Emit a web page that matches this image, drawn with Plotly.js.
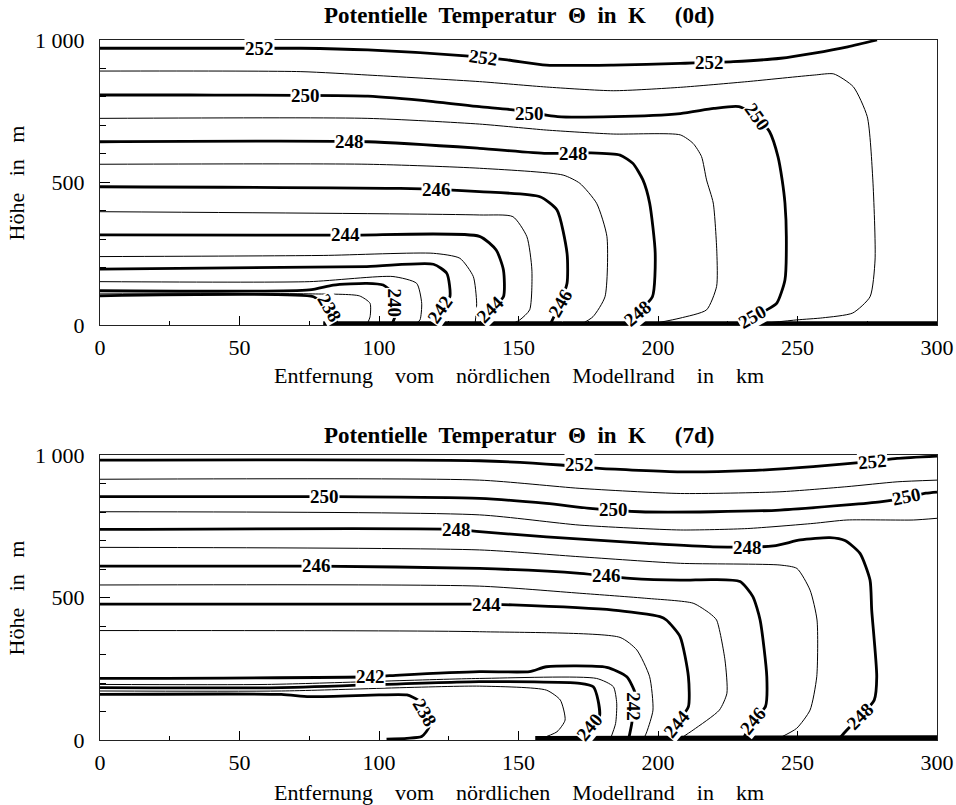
<!DOCTYPE html>
<html><head><meta charset="utf-8">
<script src="https://cdn.plot.ly/plotly-3.0.1.min.js"></script>
<style>html,body{margin:0;padding:0;background:#fff}</style>
</head><body><div id="chart" style="width:956px;height:805px"></div>
<script>
// ---------- axis data ----------
const X_TICKS = [0, 50, 100, 150, 200, 250, 300];
const X_MINOR = [25, 75, 125, 175, 225, 275];
const Y_TICKS = [0, 500, 1000];
const Y_TICKTEXT = ['0', '500', '1 000'];
const Y_MINOR = [100, 200, 300, 400, 600, 700, 800, 900];

// ---------- day 0 isolines (x in km, y in m) ----------
const d0_252_x = [0, 72, 96, 131, 146, 160, 184, 208, 227, 244, 256, 268, 278.5];
const d0_252_y = [971, 971, 965, 944, 930, 912, 912, 918, 924, 936, 954, 976, 1000];
const d0_251_x = [0, 72, 96, 136, 160, 184, 208, 232, 256, 263, 270, 275, 277, 277.8, 276, 269.8, 259, 250, 240];
const d0_251_y = [891, 889, 877, 854, 835, 822, 834, 854, 877, 881, 836, 731, 509, 228, 99, 42, 25, 18, 8];
const d0_250_x = [0, 32, 96, 119.5, 136, 148, 164, 184, 208, 220, 229, 235.5, 240, 243, 244.5, 245.5, 246, 245.5, 242.6, 239, 234, 229.4];
const d0_250_y = [807, 807, 803, 784, 766, 755, 731, 731, 742, 760, 766, 731, 678, 591, 509, 428, 310, 158, 77, 53, 29, 0];
const d0_249_x = [0, 96, 136, 160, 184, 208, 212.6, 215.6, 217.4, 219.8, 221.1, 221, 217.4, 207.9, 200];
const d0_249_y = [725, 725, 705, 684, 670, 667, 637, 591, 509, 428, 252, 135, 53, 24, 8];
const d0_248_x = [0, 96, 136, 160, 175.6, 186.4, 191, 194.6, 197, 199, 198, 192.5, 188];
const d0_248_y = [643, 643, 620, 602, 604, 596, 567, 509, 428, 252, 99, 42, 0];
const d0_247_x = [0, 96, 136, 166, 172, 178, 181.7, 181, 176.7, 172];
const d0_247_y = [564, 564, 550, 526, 497, 427, 310, 99, 29, 0];
const d0_246_x = [0, 107.5, 136, 157.7, 163.8, 167.4, 167.4, 164.9, 161.3];
const d0_246_y = [485, 479, 468, 450, 403.5, 251.5, 146, 76, 0];
const d0_245_x = [0, 136, 148, 153, 154.8, 154, 150.5, 148];
const d0_245_y = [397.5, 386, 380, 310, 193, 53, 18, 5];
const d0_244_x = [0, 88, 136, 142, 144.6, 144.6, 139.8, 136];
const d0_244_y = [316, 315, 311, 263, 193, 99, 53, 0];
const d0_243_x = [0, 80, 119.5, 129, 133.8, 135, 134.4];
const d0_243_y = [240, 244, 251.5, 234, 170, 76, 0];
const d0_242_x = [0, 95.6, 119.5, 124.3, 125.4, 121.9, 119.5];
const d0_242_y = [196, 205, 213, 181, 99, 53, 0];
const d0_241_x = [0, 75, 105, 113.5, 115.3, 114.7, 113];
const d0_241_y = [152, 152, 170, 146, 76, 18, 3];
const d0_240_x = [0, 75, 83.6, 95.6, 101.5, 105, 105.7, 105.7, 104.5];
const d0_240_y = [120, 123, 140, 146, 140, 111, 76, 29, 0];
const d0_239_x = [0, 76.3, 93, 96.8, 96.8, 95.6];
const d0_239_y = [109, 109, 102, 76, 29, 0];
const d0_238_x = [0, 76.5, 78.9, 82.4, 84.8, 84];
const d0_238_y = [102, 99, 82, 58, 12, 0];
const d0_surface_x = [80, 300];
const d0_surface_y = [5, 5];

// day 0 labels
const lab0_text = ['252', '252', '252', '250', '250', '250', '250', '248', '248', '248', '246', '246', '244', '244', '242', '240', '238'];
const lab0_x = [57.3, 137.4, 218.6, 73.5, 154, 235.5, 234, 89.6, 169.6, 192.5, 120.7, 164.9, 88, 139.8, 121.9, 105.7, 82.4];
const lab0_y = [971, 940, 921, 806, 742, 731, 29, 643, 601, 42, 474, 76, 316, 53, 53, 76, 58];
const lab0_angle = [0, 8, 0, 0, 0, 55, -30, 0, 0, -40, 0, -60, 0, -45, -55, 90, 60];

// ---------- day 7 isolines ----------
const d7_252_x = [0, 136, 165, 179, 208, 232, 255.6, 277, 285.7, 300];
const d7_252_y = [982, 980, 965, 953, 941, 945, 959, 978, 988, 996];
const d7_251_x = [0, 136, 172, 208, 243.7, 267.7, 285.7, 300];
const d7_251_y = [915, 912, 883, 865, 871, 889, 906, 912];
const d7_250_x = [0, 80.6, 136, 160, 175.6, 193.5, 219.7, 243.7, 267.7, 279.6, 289, 296, 300];
const d7_250_y = [854, 854, 848, 830, 813, 801, 801, 807, 825, 836, 850, 866, 870];
const d7_249_x = [0, 136, 172, 208, 232, 255.6, 267.7, 291.5, 300];
const d7_249_y = [801, 790, 754, 737, 742, 760, 772, 772, 778];
const d7_248_x = [0, 127.8, 136, 160, 196, 219.7, 241.4, 251, 261.6, 267, 272.4, 276, 276.6, 278.4, 277.5, 272.4, 267.7, 265];
const d7_248_y = [739, 739, 731, 713, 690, 678, 681, 702, 710, 700, 655, 561, 456, 222, 140, 82, 35, 5];
const d7_247_x = [0, 136, 172, 208, 243.7, 249.8, 254.5, 257, 256.9, 254.5, 249.7, 243.7];
const d7_247_y = [676, 667, 643, 620, 614, 602, 526, 421, 222, 105, 41, 8];
const d7_246_x = [0, 77.7, 136, 172, 190, 208, 219.7, 229.4, 234, 236.6, 239, 238.5, 234, 230.5];
const d7_246_y = [610, 610, 602, 585, 567, 561, 563, 556, 503, 421, 222, 117, 70, 2];
const d7_245_x = [0, 136, 172, 196, 212.6, 218.6, 221, 224, 224.7, 222, 212.6, 208];
const d7_245_y = [544, 540, 515, 497, 480, 444, 421, 281, 164, 105, 35, 5];
const d7_244_x = [0, 136, 148, 184, 200.7, 203, 207.9, 210.9, 210.9, 206.8, 203.2];
const d7_244_y = [477, 477, 474, 456, 433, 421, 363, 222, 117, 58, 0];
const d7_243_x = [0, 136, 186.4, 192.4, 197, 198.2, 196, 194.7];
const d7_243_y = [384, 380, 360, 316, 222, 105, 29, 0];
const d7_242_x = [0, 96.8, 107.5, 136, 154, 160, 181.6, 188.8, 191.8, 191.2, 190.6, 189.4];
const d7_242_y = [216, 222, 228, 240, 240, 257, 255, 222, 164, 117, 58, 0];
const d7_241_x = [0, 60, 136, 178, 184, 185.2, 184.8, 182.8];
const d7_241_y = [195, 195, 216, 216, 187, 129, 58, 0];
const d7_240_x = [0, 65, 136, 172, 176.8, 178.5, 179, 175.6, 172];
const d7_240_y = [184, 184, 205, 199, 187, 140, 82, 47, 0];
const d7_239_x = [0, 65, 136, 160, 165, 166.7, 163.8, 156.6];
const d7_239_y = [172, 172, 189, 175, 140, 70, 29, 0];
const d7_238_x = [0, 65, 75, 100, 110, 114, 116.5, 118, 115.3, 110, 102.7];
const d7_238_y = [160, 160, 152, 158, 158, 140, 98, 47, 12, 6, 3];
const d7_surface_x = [156, 265, 300];
const d7_surface_y = [5, 5, 8];

// day 7 labels
const lab7_text = ['252', '252', '250', '250', '250', '248', '248', '246', '246', '244', '242', '238', '240', '242', '244', '246', '248'];
const lab7_x = [172, 277, 80.6, 183.9, 289, 127.8, 231.9, 77.7, 181.6, 138.6, 96.8, 116.5, 175.6, 191.2, 206.8, 234, 272.4];
const lab7_y = [967, 978, 854, 810, 855, 739, 677, 612, 576, 477, 222, 98, 47, 117, 58, 70, 82];
const lab7_angle = [0, -5, 0, 0, -12, 0, 0, 0, 0, 0, 0, 60, -50, 90, -50, -50, -45];

// ---------- build ----------
const LEVELS = [252, 251, 250, 249, 248, 247, 246, 245, 244, 243, 242, 241, 240, 239, 238];
const set0 = {252:[d0_252_x,d0_252_y],251:[d0_251_x,d0_251_y],250:[d0_250_x,d0_250_y],249:[d0_249_x,d0_249_y],248:[d0_248_x,d0_248_y],247:[d0_247_x,d0_247_y],246:[d0_246_x,d0_246_y],245:[d0_245_x,d0_245_y],244:[d0_244_x,d0_244_y],243:[d0_243_x,d0_243_y],242:[d0_242_x,d0_242_y],241:[d0_241_x,d0_241_y],240:[d0_240_x,d0_240_y],239:[d0_239_x,d0_239_y],238:[d0_238_x,d0_238_y]};
const set7 = {252:[d7_252_x,d7_252_y],251:[d7_251_x,d7_251_y],250:[d7_250_x,d7_250_y],249:[d7_249_x,d7_249_y],248:[d7_248_x,d7_248_y],247:[d7_247_x,d7_247_y],246:[d7_246_x,d7_246_y],245:[d7_245_x,d7_245_y],244:[d7_244_x,d7_244_y],243:[d7_243_x,d7_243_y],242:[d7_242_x,d7_242_y],241:[d7_241_x,d7_241_y],240:[d7_240_x,d7_240_y],239:[d7_239_x,d7_239_y],238:[d7_238_x,d7_238_y]};

const SERIF = '"Liberation Serif", "Times New Roman", serif';
const traces = [];
function addSet(set, xa, ya) {
  LEVELS.forEach(function (lv) {
    const d = set[lv];
    traces.push({type: 'scatter', mode: 'lines', x: d[0], y: d[1], xaxis: xa, yaxis: ya,
      line: {color: '#000', width: (lv % 2 === 0) ? 2.8 : 1, shape: 'spline', smoothing: 0.6},
      hoverinfo: 'skip', showlegend: false});
  });
}
addSet(set0, 'x', 'y');
addSet(set7, 'x2', 'y2');
traces.push({type: 'scatter', mode: 'lines', x: d0_surface_x, y: d0_surface_y, xaxis: 'x', yaxis: 'y', line: {color: '#000', width: 4.5}, hoverinfo: 'skip', showlegend: false});
traces.push({type: 'scatter', mode: 'lines', x: d7_surface_x, y: d7_surface_y, xaxis: 'x2', yaxis: 'y2', line: {color: '#000', width: 5}, hoverinfo: 'skip', showlegend: false});

const annotations = [];
function addLabels(t, xs, ys, angs, xr, yr) {
  for (let i = 0; i < t.length; i++) {
    annotations.push({x: xs[i], y: ys[i], xref: xr, yref: yr, text: '<b>' + t[i] + '</b>', showarrow: false,
      textangle: angs[i], bgcolor: '#fff', borderpad: 0, font: {family: SERIF, size: 19, color: '#000'}});
  }
}
addLabels(lab0_text, lab0_x, lab0_y, lab0_angle, 'x', 'y');
addLabels(lab7_text, lab7_x, lab7_y, lab7_angle, 'x2', 'y2');

const NB = '\u00a0';
const GAP = NB + NB + NB + ' ';
const titleText = function (d) { return '<b>Potentielle' + NB + ' Temperatur' + NB + ' Θ' + NB + ' in' + NB + ' K' + NB + NB + NB + NB + ' (' + d + ')</b>'; };
const xTitle = 'Entfernung' + GAP + 'vom' + GAP + 'nördlichen' + GAP + 'Modellrand' + GAP + 'in' + GAP + 'km';
const yTitle = 'Höhe' + NB + NB + ' in' + NB + NB + ' m';
function paperAnn(text, x, y, size, angle) {
  annotations.push({text: text, x: x, y: y, xref: 'paper', yref: 'paper', xanchor: 'center', yanchor: 'middle',
    showarrow: false, textangle: angle || 0, font: {family: SERIF, size: size, color: '#000'}});
}
paperAnn(titleText('0d'), 0.5006, 1.0357, 23);
paperAnn(titleText('7d'), 0.5006, 0.4357, 23);
paperAnn(xTitle, 0.5, 0.5214, 22);
paperAnn(xTitle, 0.5, -0.0757, 22);
paperAnn(yTitle, -0.0992, 0.7964, 22, -90);
paperAnn(yTitle, -0.0992, 0.2036, 22, -90);

function xAxis(anchor) {
  return {domain: [0, 1], anchor: anchor, range: [0, 300], tickmode: 'array', tickvals: X_TICKS,
    ticks: 'inside', ticklen: 9, tickwidth: 1, tickcolor: '#000', showgrid: false, zeroline: false,
    showline: true, mirror: true, linecolor: '#222', linewidth: 1, ticklabelstandoff: 3,
    minor: {tickvals: X_MINOR, ticks: 'inside', ticklen: 4, tickcolor: '#000', showgrid: false},
    tickfont: {family: SERIF, size: 22, color: '#000'}};
}
function yAxis(anchor, dom) {
  return {domain: dom, anchor: anchor, range: [0, 1000], tickmode: 'array', tickvals: Y_TICKS, ticktext: Y_TICKTEXT,
    ticks: 'inside', ticklen: 10, tickwidth: 1, tickcolor: '#000', showgrid: false, zeroline: false,
    showline: true, mirror: true, linecolor: '#222', linewidth: 1, ticklabelstandoff: 10,
    minor: {tickvals: Y_MINOR, ticks: 'inside', ticklen: 6, tickcolor: '#000', showgrid: false},
    tickfont: {family: SERIF, size: 22, color: '#000'}};
}

const layout = {
  width: 956, height: 805, autosize: false,
  margin: {l: 100, r: 19, t: 40, b: 65},
  paper_bgcolor: '#fff', plot_bgcolor: '#fff',
  showlegend: false,
  xaxis: xAxis('y'), yaxis: yAxis('x', [0.5929, 1]),
  xaxis2: xAxis('y2'), yaxis2: yAxis('x2', [0, 0.4071]),
  annotations: annotations
};
Plotly.newPlot('chart', traces, layout, {staticPlot: true, displayModeBar: false});
</script></body></html>
